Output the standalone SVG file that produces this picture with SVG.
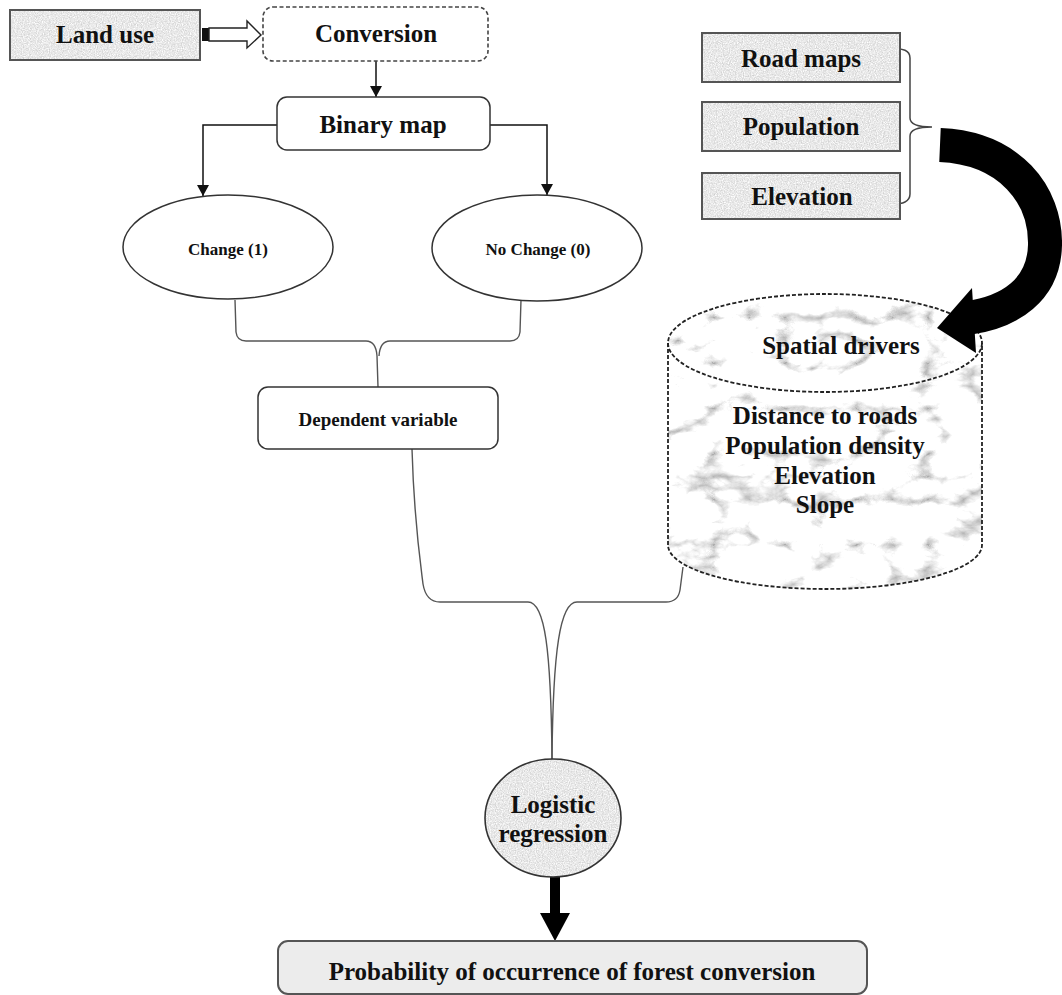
<svg xmlns="http://www.w3.org/2000/svg" width="1062" height="995" viewBox="0 0 1062 995">
<style>
  text { font-family: "Liberation Serif", "Times New Roman", serif; font-weight: bold; fill: #111; text-anchor: middle; }
  .big { font-size: 25px; }
  .mid { font-size: 19px; }
  .sm { font-size: 17px; }
  .conn { fill: none; stroke: #555; stroke-width: 1.4; }
  .arr { fill: none; stroke: #111; stroke-width: 1.5; }
  .box { stroke: #555; stroke-width: 2; }
  .plain { fill: #fff; stroke: #333; stroke-width: 1.5; }
</style>
<defs>
  <filter id="granite" x="0" y="0" width="100%" height="100%" color-interpolation-filters="sRGB">
    <feTurbulence type="fractalNoise" baseFrequency="0.85" numOctaves="2" seed="3" result="n"/>
    <feColorMatrix in="n" type="matrix" values="0.3 0 0 0 0.76  0.3 0 0 0 0.76  0.3 0 0 0 0.76  0 0 0 0 1" result="g"/>
    <feComposite in="g" in2="SourceGraphic" operator="in"/>
  </filter>
  <filter id="marble" x="0" y="0" width="100%" height="100%" color-interpolation-filters="sRGB">
    <feTurbulence type="turbulence" baseFrequency="0.014 0.022" numOctaves="5" seed="11" result="n"/>
    <feColorMatrix in="n" type="matrix" values="1.2 0 0 0 0.68  1.2 0 0 0 0.68  1.2 0 0 0 0.68  0 0 0 0 1" result="g"/>
    <feComposite in="g" in2="SourceGraphic" operator="in"/>
  </filter>
  <marker id="ah" markerUnits="userSpaceOnUse" markerWidth="12" markerHeight="12" refX="11" refY="6" orient="auto">
    <path d="M0,0 L11,6 L0,12 z" fill="#111"/>
  </marker>
</defs>

<g id="connectors">
  <!-- Land use to Conversion hollow arrow -->
  <rect x="202" y="28" width="7" height="13" fill="#111"/>
  <path d="M209 28 L247 28 L247 21 L261 35 L247 48 L247 41 L209 41 Z" fill="#fff" stroke="#222" stroke-width="1.4"/>
  <!-- Conversion to Binary map -->
  <path class="arr" d="M376 61 L376 97" marker-end="url(#ah)"/>
  <!-- Binary map to Change / No Change -->
  <path class="arr" d="M277 125 L203 125 L203 196" marker-end="url(#ah)"/>
  <path class="arr" d="M490 125 L547 125 L547 195" marker-end="url(#ah)"/>
  <!-- Change/No change to Dependent variable -->
  <path class="conn" d="M235 300 L236 332 Q237 341 246 341 L366 341 Q376 341 377 356 L378 387"/>
  <path class="conn" d="M521 300 L520 332 Q519 341 510 341 L390 341 Q380 341 379 356"/>
  <!-- Dependent variable + Spatial drivers to Logistic regression -->
  <path class="conn" d="M412 449 C414 520, 420 560, 423 584 Q426 602 440 602 L528 602 C545 602, 551 650, 552 759"/>
  <path class="conn" d="M683 567 L680 590 Q678 602 666 602 L577 602 C560 602, 553 650, 552 759"/>
  <!-- Brace from inputs -->
  <path d="M890 49 Q910 47 910 58 L910 118 Q910 127 932 127 Q910 127 910 136 L910 194 Q910 205 890 204" fill="none" stroke="#444" stroke-width="1.5"/>
  <!-- Logistic to Probability thick arrow -->
  <rect x="550" y="877" width="10" height="38" fill="#000"/>
  <path d="M540 913 L570 913 L555 941 Z" fill="#000"/>
</g>

<g id="node-landuse">
  <rect x="10" y="10" width="190" height="50" fill="#fff" filter="url(#granite)"/>
  <rect x="10" y="10" width="190" height="50" fill="none" class="box"/>
  <text class="big" x="105" y="43">Land use</text>
</g>

<g id="node-conversion">
  <rect x="263" y="7" width="225" height="54" rx="10" fill="#fff" stroke="#444" stroke-width="1.6" stroke-dasharray="4 2.5"/>
  <text class="big" x="376" y="42">Conversion</text>
</g>

<g id="node-binary">
  <rect x="277" y="97" width="213" height="53" rx="10" class="plain"/>
  <text class="big" x="383" y="133">Binary map</text>
</g>

<g id="node-change">
  <ellipse cx="228" cy="247" rx="105" ry="52" class="plain"/>
  <text class="sm" x="228" y="255">Change (1)</text>
</g>

<g id="node-nochange">
  <ellipse cx="537" cy="248" rx="105" ry="53" class="plain"/>
  <text class="sm" x="538" y="255">No Change (0)</text>
</g>

<g id="node-dependent">
  <rect x="258" y="387" width="240" height="62" rx="10" class="plain"/>
  <text class="mid" x="378" y="426">Dependent variable</text>
</g>

<g id="node-roadmaps">
  <rect x="702" y="33" width="198" height="49" fill="#fff" filter="url(#granite)"/>
  <rect x="702" y="33" width="198" height="49" fill="none" class="box"/>
  <text class="big" x="801" y="67">Road maps</text>
</g>

<g id="node-population">
  <rect x="702" y="102" width="198" height="49" fill="#fff" filter="url(#granite)"/>
  <rect x="702" y="102" width="198" height="49" fill="none" class="box"/>
  <text class="big" x="801" y="135">Population</text>
</g>

<g id="node-elevation">
  <rect x="702" y="173" width="198" height="46" fill="#fff" filter="url(#granite)"/>
  <rect x="702" y="173" width="198" height="46" fill="none" class="box"/>
  <text class="big" x="802" y="205">Elevation</text>
</g>

<g id="node-spatial">
  <path d="M668 343 L668 545 A157 44 0 0 0 982 545 L982 343 A157 49 0 0 0 668 343 Z" fill="#fff" filter="url(#marble)"/>
  <path d="M668 343 L668 545 A157 44 0 0 0 982 545 L982 343" fill="none" stroke="#222" stroke-width="1.8" stroke-dasharray="4 2"/>
  <ellipse cx="825" cy="343" rx="157" ry="49" fill="none" stroke="#222" stroke-width="1.8" stroke-dasharray="4 2"/>
  <text class="big" x="841" y="354">Spatial drivers</text>
  <text class="big" x="825" y="424">Distance to roads</text>
  <text class="big" x="825" y="454">Population density</text>
  <text class="big" x="825" y="484">Elevation</text>
  <text class="big" x="825" y="513">Slope</text>
</g>

<g id="big-arrow">
  <path d="M940 145 C1010 148, 1046 195, 1045 245 C1044 290, 1010 312, 968 318" fill="none" stroke="#000" stroke-width="34"/>
  <path d="M972 288 L937 328 L976 353 Z" fill="#000"/>
</g>

<g id="node-logistic">
  <ellipse cx="553" cy="818" rx="68" ry="59" fill="#fff" filter="url(#granite)"/>
  <ellipse cx="553" cy="818" rx="68" ry="59" fill="none" stroke="#333" stroke-width="1.6"/>
  <text class="big" x="553" y="813">Logistic</text>
  <text class="big" x="553" y="842">regression</text>
</g>

<g id="node-probability">
  <rect x="278" y="941" width="589" height="53" rx="10" fill="#ececec" stroke="#555" stroke-width="2"/>
  <text class="big" x="572" y="980">Probability of occurrence of forest conversion</text>
</g>
</svg>
